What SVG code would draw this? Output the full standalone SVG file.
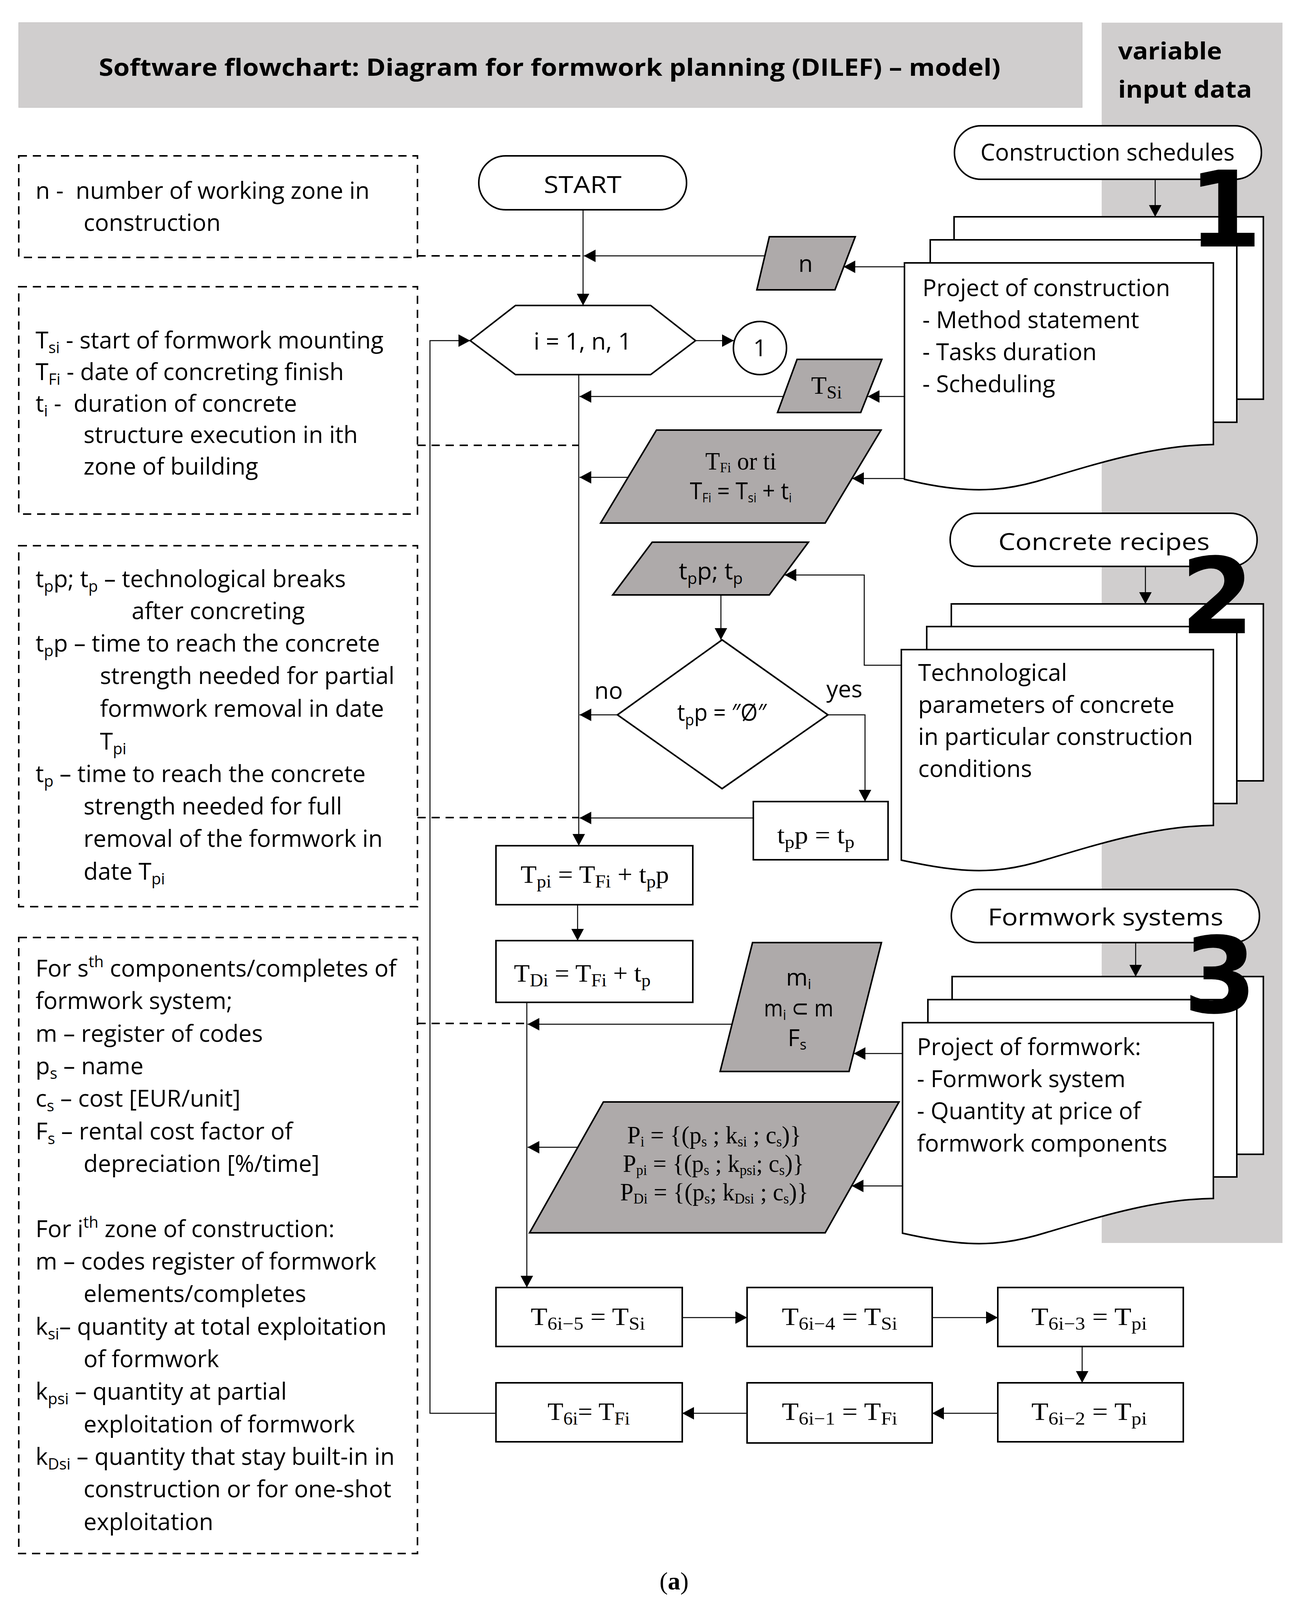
<svg xmlns="http://www.w3.org/2000/svg" width="3357" height="4120" viewBox="0 0 3357 4120">
<style>
.s{font-family:"Open Sans","Liberation Sans","DejaVu Sans",sans-serif;font-size:60px;fill:#000}
.b{font-weight:bold}
.r{font-family:"Liberation Serif","DejaVu Serif",serif;font-size:64px;fill:#000}
.sb{font-size:40px}
.rsb{font-size:46px}
.sp{font-size:40px}
.node{stroke:#000;stroke-width:4;fill:#fff}
.g{stroke:#000;stroke-width:4;fill:#aeaaaa}
.dash{fill:none;stroke:#000;stroke-width:4;stroke-dasharray:21 15}
.c{fill:none;stroke:#000;stroke-width:2.5}
.a{marker-end:url(#ah)}
.num{font-family:"DejaVu Sans","Liberation Sans",sans-serif;font-weight:bold;font-size:270px;fill:#000}
</style>
<defs>
<marker id="ah" markerUnits="userSpaceOnUse" markerWidth="32" markerHeight="32" viewBox="0 0 32 32" refX="30" refY="16" orient="auto"><path d="M0,0 L30,16 L0,32 z" fill="#000"/></marker>
</defs>
<rect width="3357" height="4120" fill="#fff"/>

<g id="title">
<rect x="48" y="58" width="2723" height="217" fill="#d0cece" stroke="#c4c2c2" stroke-width="1.5"/>
<text class="s b" x="253" y="194" font-size="70" textLength="2309" lengthAdjust="spacingAndGlyphs">Software flowchart: Diagram for formwork planning (DILEF) – model)</text>
</g>
<g id="input-panel">
<rect x="2821" y="58" width="463" height="3124" fill="#d0cece"/>
<text class="s b" x="2863" y="152" font-size="73" textLength="266" lengthAdjust="spacingAndGlyphs">variable</text>
<text class="s b" x="2863" y="250" font-size="73" textLength="343" lengthAdjust="spacingAndGlyphs">input data</text>
</g>

<g id="legend-n">
<rect class="dash" x="48" y="399" width="1021" height="260"/>
<text class="s" x="91" y="509">n -&#160; number of working zone in</text>
<text class="s" x="214" y="591">construction</text>
</g>
<g id="legend-t">
<rect class="dash" x="48" y="734" width="1021" height="582"/>
<text class="s" x="91" y="892">T<tspan class="sb" dy="12">si</tspan><tspan dy="-12"> - start of formwork mounting</tspan></text>
<text class="s" x="91" y="973">T<tspan class="sb" dy="12">Fi</tspan><tspan dy="-12"> - date of concreting finish</tspan></text>
<text class="s" x="91" y="1054">t<tspan class="sb" dy="12">i</tspan><tspan dy="-12"> -&#160; duration of concrete</tspan></text>
<text class="s" x="214" y="1134">structure execution in ith</text>
<text class="s" x="214" y="1215">zone of building</text>
</g>
<g id="legend-tp">
<rect class="dash" x="48" y="1397" width="1021" height="924"/>
<text class="s" x="91" y="1503">t<tspan class="sb" dy="12">p</tspan><tspan dy="-12">p; t</tspan><tspan class="sb" dy="12">p</tspan><tspan dy="-12"> – technological breaks</tspan></text>
<text class="s" x="337" y="1585">after concreting</text>
<text class="s" x="91" y="1668">t<tspan class="sb" dy="12">p</tspan><tspan dy="-12">p – time to reach the concrete</tspan></text>
<text class="s" x="256" y="1751">strength needed for partial</text>
<text class="s" x="256" y="1835">formwork removal in date</text>
<text class="s" x="256" y="1919">T<tspan class="sb" dy="12">pi</tspan></text>
<text class="s" x="91" y="2002">t<tspan class="sb" dy="12">p</tspan><tspan dy="-12"> – time to reach the concrete</tspan></text>
<text class="s" x="214" y="2085">strength needed for full</text>
<text class="s" x="214" y="2168">removal of the formwork in</text>
<text class="s" x="214" y="2252">date T<tspan class="sb" dy="12">pi</tspan></text>
</g>
<g id="legend-formwork">
<rect class="dash" x="48" y="2400" width="1021" height="1577"/>
<text class="s" x="91" y="2500">For s<tspan class="sp" dy="-24">th</tspan><tspan dy="24"> components/completes of</tspan></text>
<text class="s" x="91" y="2583">formwork system;</text>
<text class="s" x="91" y="2667">m – register of codes</text>
<text class="s" x="91" y="2750">p<tspan class="sb" dy="12">s</tspan><tspan dy="-12"> – name</tspan></text>
<text class="s" x="91" y="2833">c<tspan class="sb" dy="12">s</tspan><tspan dy="-12"> – cost [EUR/unit]</tspan></text>
<text class="s" x="91" y="2917">F<tspan class="sb" dy="12">s</tspan><tspan dy="-12"> – rental cost factor of</tspan></text>
<text class="s" x="214" y="3000">depreciation [%/time]</text>
<text class="s" x="91" y="3167">For i<tspan class="sp" dy="-24">th</tspan><tspan dy="24"> zone of construction:</tspan></text>
<text class="s" x="91" y="3250">m – codes register of formwork</text>
<text class="s" x="214" y="3333">elements/completes</text>
<text class="s" x="91" y="3417">k<tspan class="sb" dy="12">si</tspan><tspan dy="-12">– quantity at total exploitation</tspan></text>
<text class="s" x="214" y="3500">of formwork</text>
<text class="s" x="91" y="3583">k<tspan class="sb" dy="12">psi</tspan><tspan dy="-12"> – quantity at partial</tspan></text>
<text class="s" x="214" y="3667">exploitation of formwork</text>
<text class="s" x="91" y="3750">k<tspan class="sb" dy="12">Dsi</tspan><tspan dy="-12"> – quantity that stay built-in in</tspan></text>
<text class="s" x="214" y="3833">construction or for one-shot</text>
<text class="s" x="214" y="3917">exploitation</text>
</g>

<g id="doc1">
<rect class="node" x="2443" y="555" width="792" height="467"/>
<rect class="node" x="2382" y="614" width="785" height="467"/>
<path class="node" d="M2316,673 H3107 V1138 C2950,1140 2800,1190 2680,1225 C2600,1250 2540,1256 2480,1253 C2420,1250 2360,1238 2316,1227 Z"/>
<text class="s" x="2362" y="758">Project of construction</text>
<text class="s" x="2362" y="840">- Method statement</text>
<text class="s" x="2362" y="922">- Tasks duration</text>
<text class="s" x="2362" y="1004">- Scheduling</text>
</g>
<g id="doc2">
<rect class="node" x="2436" y="1546" width="799" height="453"/>
<rect class="node" x="2373" y="1604" width="794" height="453"/>
<path class="node" d="M2308,1663 H3107 V2113 C2950,2115 2800,2165 2680,2200 C2600,2225 2540,2231 2480,2228 C2420,2225 2360,2213 2308,2202 Z"/>
<text class="s" x="2351" y="1743">Technological</text>
<text class="s" x="2351" y="1825">parameters of concrete</text>
<text class="s" x="2351" y="1907">in particular construction</text>
<text class="s" x="2351" y="1989">conditions</text>
</g>
<g id="doc3">
<rect class="node" x="2438" y="2500" width="797" height="455"/>
<rect class="node" x="2376" y="2559" width="791" height="454"/>
<path class="node" d="M2311,2618 H3107 V3068 C2950,3070 2800,3120 2680,3155 C2600,3180 2540,3186 2480,3183 C2420,3180 2360,3168 2311,3157 Z"/>
<text class="s" x="2348" y="2701">Project of formwork:</text>
<text class="s" x="2348" y="2783">- Formwork system</text>
<text class="s" x="2348" y="2865">- Quantity at price of</text>
<text class="s" x="2348" y="2948">formwork components</text>
</g>
<g id="src-schedules">
<rect class="node" x="2444" y="322" width="786" height="137" rx="68" stroke-width="3.5"/>
<text class="s" x="2836" y="411" text-anchor="middle" textLength="651" lengthAdjust="spacingAndGlyphs">Construction schedules</text>
</g>
<g id="src-recipes">
<rect class="node" x="2433" y="1314" width="786" height="136" rx="68" stroke-width="3.5"/>
<text class="s" x="2827" y="1408" text-anchor="middle" font-size="68" textLength="541" lengthAdjust="spacingAndGlyphs">Concrete recipes</text>
</g>
<g id="src-formwork">
<rect class="node" x="2436" y="2277" width="789" height="136" rx="68" stroke-width="3.5"/>
<text class="s" x="2831" y="2369" text-anchor="middle" font-size="68" textLength="603" lengthAdjust="spacingAndGlyphs">Formwork systems</text>
</g>
<g id="numbers">
<text class="num" x="3137" y="631" text-anchor="middle">1</text>
<text class="num" x="3117" y="1621" text-anchor="middle">2</text>
<text class="num" x="3124" y="2592" text-anchor="middle">3</text>
</g>

<g id="connectors">
<path class="c a" d="M1493,537 V782"/>
<path class="c a" d="M1958,655 H1495"/>
<path class="dash" d="M1069,655 H1493"/>
<path class="c a" d="M2316,683 H2160"/>
<path class="c a" d="M1781,872 H1879"/>
<path class="c a" d="M1270,3618 H1101 V872 H1204"/>
<path class="c a" d="M1482,959 V2165"/>
<path class="c a" d="M2006,1015 H1484"/>
<path class="c a" d="M2316,1015 H2222"/>
<path class="dash" d="M1069,1140 H1482"/>
<path class="c a" d="M1608,1222 H1484"/>
<path class="c a" d="M2316,1225 H2182"/>
<path class="c a" d="M2308,1703 H2213 V1472 H2009"/>
<path class="c a" d="M1846,1523 V1638"/>
<path class="c a" d="M1581,1830 H1484"/>
<path class="c a" d="M2120,1830 H2215 V2052"/>
<path class="c a" d="M1929,2094 H1484"/>
<path class="dash" d="M1069,2093 H1482"/>
<path class="c a" d="M1479,2316 V2408"/>
<path class="c a" d="M1349,2566 V3296"/>
<path class="c a" d="M1875,2622 H1351"/>
<path class="dash" d="M1069,2620 H1349"/>
<path class="c a" d="M2311,2697 H2186"/>
<path class="c a" d="M1480,2937 H1351"/>
<path class="c a" d="M2311,3036 H2181"/>
<path class="c a" d="M1747,3373 H1913"/>
<path class="c a" d="M2387,3373 H2555"/>
<path class="c a" d="M2771,3447 V3540"/>
<path class="c a" d="M2555,3618 H2387"/>
<path class="c a" d="M1913,3618 H1747"/>
<path class="c a" d="M2958,459 V555"/>
<path class="c a" d="M2933,1450 V1546"/>
<path class="c a" d="M2908,2413 V2500"/>
</g>

<g id="start">
<rect class="node" x="1226" y="399" width="532" height="138" rx="69" stroke-width="3.5"/>
<text class="s" x="1492" y="494" text-anchor="middle" font-size="70" textLength="199" lengthAdjust="spacingAndGlyphs">START</text>
</g>
<g id="loop">
<polygon class="node" points="1204,872 1320,782 1666,782 1781,872 1666,959 1320,959"/>
<text class="s" x="1492" y="895" text-anchor="middle" textLength="251" lengthAdjust="spacingAndGlyphs">i = 1, n, 1</text>
</g>
<g id="connector-1">
<circle class="node" cx="1946" cy="891" r="68" stroke-width="3.5"/>
<text class="s" x="1946" y="912" text-anchor="middle">1</text>
</g>
<g id="in-n">
<polygon class="g" points="1970,606 2190,606 2138,742 1938,742"/>
<text class="s" x="2063" y="696" text-anchor="middle">n</text>
</g>
<g id="in-tsi">
<polygon class="g" points="2041,920 2258,920 2204,1056 1991,1056"/>
<text class="r" x="2077" y="1008" textLength="79" lengthAdjust="spacingAndGlyphs">T<tspan class="rsb" dy="12">Si</tspan></text>
</g>
<g id="in-tfi">
<polygon class="g" points="1681,1101 2256,1101 2113,1339 1538,1339"/>
<text class="r" x="1897" y="1202" text-anchor="middle" font-size="54" textLength="182" lengthAdjust="spacingAndGlyphs">T<tspan font-size="36" dy="7">Fi</tspan><tspan dy="-7"> or ti</tspan></text>
<text class="s" x="1897" y="1278" text-anchor="middle" font-size="50" textLength="261" lengthAdjust="spacingAndGlyphs">T<tspan font-size="32" dy="8">Fi</tspan><tspan dy="-8"> = T</tspan><tspan font-size="32" dy="8">si</tspan><tspan dy="-8"> + t</tspan><tspan font-size="32" dy="8">i</tspan></text>
</g>
<g id="in-tp">
<polygon class="g" points="1670,1388 2070,1388 1970,1523 1569,1523"/>
<text class="s" x="1738" y="1483" textLength="164" lengthAdjust="spacingAndGlyphs">t<tspan class="sb" dy="12">p</tspan><tspan dy="-12">p; t</tspan><tspan class="sb" dy="12">p</tspan></text>
</g>
<g id="decision">
<polygon class="node" points="1849,1638 2120,1830 1849,2019 1581,1830"/>
<text class="s" x="1734" y="1845" font-size="58" textLength="229" lengthAdjust="spacingAndGlyphs">t<tspan class="sb" dy="12">p</tspan><tspan dy="-12">p = ″Ø″</tspan></text>
<text class="s" x="1522" y="1789">no</text>
<text class="s" x="2116" y="1785">yes</text>
</g>
<g id="set-tpp">
<rect class="node" x="1929" y="2052" width="345" height="149"/>
<text class="r" x="1990" y="2159" textLength="198" lengthAdjust="spacingAndGlyphs">t<tspan class="rsb" dy="12">p</tspan><tspan dy="-12">p = t</tspan><tspan class="rsb" dy="12">p</tspan></text>
</g>
<g id="calc-tpi">
<rect class="node" x="1270" y="2165" width="504" height="151"/>
<text class="r" x="1333" y="2260" font-size="66" textLength="380" lengthAdjust="spacingAndGlyphs">T<tspan class="rsb" dy="12">pi</tspan><tspan dy="-12"> = T</tspan><tspan class="rsb" dy="12">Fi</tspan><tspan dy="-12"> + t</tspan><tspan class="rsb" dy="12">p</tspan><tspan dy="-12">p</tspan></text>
</g>
<g id="calc-tdi">
<rect class="node" x="1270" y="2408" width="504" height="158"/>
<text class="r" x="1316" y="2513" font-size="66" textLength="350" lengthAdjust="spacingAndGlyphs">T<tspan class="rsb" dy="12">Di</tspan><tspan dy="-12"> = T</tspan><tspan class="rsb" dy="12">Fi</tspan><tspan dy="-12"> + t</tspan><tspan class="rsb" dy="12">p</tspan></text>
</g>
<g id="in-m">
<polygon class="g" points="1927,2413 2257,2413 2174,2743 1844,2743"/>
<text class="s" x="2045" y="2523" text-anchor="middle" font-size="56">m<tspan font-size="36" dy="9">i</tspan></text>
<text class="s" x="1956" y="2602" font-size="56" textLength="178" lengthAdjust="spacingAndGlyphs">m<tspan font-size="36" dy="9">i</tspan><tspan dy="-9"> ⊂ m</tspan></text>
<text class="s" x="2041" y="2678" text-anchor="middle" font-size="56">F<tspan font-size="36" dy="9">s</tspan></text>
</g>
<g id="in-p">
<polygon class="g" points="1545,2821 2302,2821 2113,3156 1356,3156"/>
<text class="r" x="1606" y="2927" font-size="54" textLength="446" lengthAdjust="spacingAndGlyphs">P<tspan font-size="38" dy="8">i</tspan><tspan dy="-8"> = {(p</tspan><tspan font-size="38" dy="8">s</tspan><tspan dy="-8"> ; k</tspan><tspan font-size="38" dy="8">si</tspan><tspan dy="-8"> ; c</tspan><tspan font-size="38" dy="8">s</tspan><tspan dy="-8">)}</tspan></text>
<text class="r" x="1595" y="3000" font-size="54" textLength="464" lengthAdjust="spacingAndGlyphs">P<tspan font-size="38" dy="8">pi</tspan><tspan dy="-8"> = {(p</tspan><tspan font-size="38" dy="8">s</tspan><tspan dy="-8"> ; k</tspan><tspan font-size="38" dy="8">psi</tspan><tspan dy="-8">; c</tspan><tspan font-size="38" dy="8">s</tspan><tspan dy="-8">)}</tspan></text>
<text class="r" x="1588" y="3073" font-size="54" textLength="482" lengthAdjust="spacingAndGlyphs">P<tspan font-size="38" dy="8">Di</tspan><tspan dy="-8"> = {(p</tspan><tspan font-size="38" dy="8">s</tspan><tspan dy="-8">; k</tspan><tspan font-size="38" dy="8">Dsi</tspan><tspan dy="-8"> ; c</tspan><tspan font-size="38" dy="8">s</tspan><tspan dy="-8">)}</tspan></text>
</g>
<g id="t6i-5">
<rect class="node" x="1270" y="3296" width="477" height="151"/>
<text class="r" x="1359" y="3392" textLength="293" lengthAdjust="spacingAndGlyphs">T<tspan class="rsb" dy="12">6i−5</tspan><tspan dy="-12"> = T</tspan><tspan class="rsb" dy="12">Si</tspan></text>
</g>
<g id="t6i-4">
<rect class="node" x="1913" y="3296" width="474" height="151"/>
<text class="r" x="2002" y="3392" textLength="296" lengthAdjust="spacingAndGlyphs">T<tspan class="rsb" dy="12">6i−4</tspan><tspan dy="-12"> = T</tspan><tspan class="rsb" dy="12">Si</tspan></text>
</g>
<g id="t6i-3">
<rect class="node" x="2555" y="3296" width="475" height="151"/>
<text class="r" x="2641" y="3392" textLength="296" lengthAdjust="spacingAndGlyphs">T<tspan class="rsb" dy="12">6i−3</tspan><tspan dy="-12"> = T</tspan><tspan class="rsb" dy="12">pi</tspan></text>
</g>
<g id="t6i-2">
<rect class="node" x="2555" y="3540" width="475" height="151"/>
<text class="r" x="2641" y="3635" textLength="296" lengthAdjust="spacingAndGlyphs">T<tspan class="rsb" dy="12">6i−2</tspan><tspan dy="-12"> = T</tspan><tspan class="rsb" dy="12">pi</tspan></text>
</g>
<g id="t6i-1">
<rect class="node" x="1913" y="3540" width="474" height="154"/>
<text class="r" x="2002" y="3635" textLength="296" lengthAdjust="spacingAndGlyphs">T<tspan class="rsb" dy="12">6i−1</tspan><tspan dy="-12"> = T</tspan><tspan class="rsb" dy="12">Fi</tspan></text>
</g>
<g id="t6i">
<rect class="node" x="1270" y="3540" width="477" height="151"/>
<text class="r" x="1402" y="3635" textLength="211" lengthAdjust="spacingAndGlyphs">T<tspan class="rsb" dy="12">6i</tspan><tspan dy="-12">= T</tspan><tspan class="rsb" dy="12">Fi</tspan></text>
</g>
<g id="caption">
<text class="r" x="1726" y="4069" text-anchor="middle" font-size="72">(<tspan font-weight="bold">a</tspan>)</text>
</g>
</svg>
